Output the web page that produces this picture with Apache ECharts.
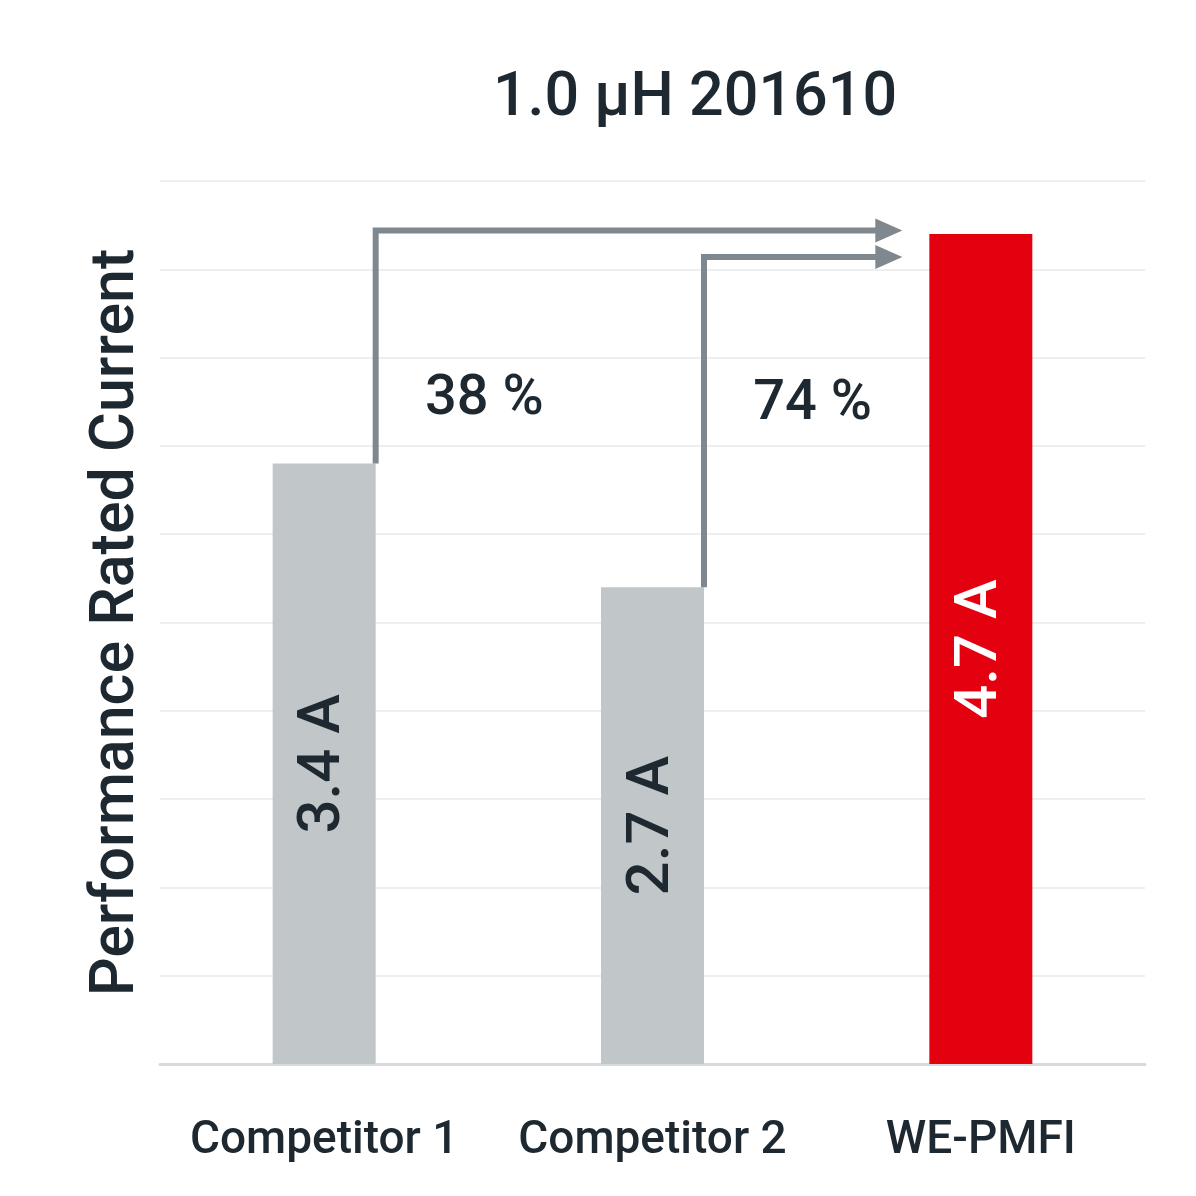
<!DOCTYPE html>
<html>
<head>
<meta charset="utf-8">
<script src="https://cdn.jsdelivr.net/npm/echarts@6/dist/echarts.min.js"></script>
<style>
  html, body { margin: 0; padding: 0; background: #fff; }
  #chart { width: 1196px; height: 1196px; }
</style>
</head>
<body>
<div id="chart"></div>
<script>
// data
const categories = ['Competitor 1', 'Competitor 2', 'WE-PMFI'];
const currents = [3.4, 2.7, 4.7];
const barLabels = ['3.4 A', '2.7 A', '4.7 A'];
const barColors = ['#c1c6c8', '#c1c6c8', '#e3000f'];
const labelColors = ['#1e2830', '#1e2830', '#ffffff'];

// arrows: from which bar, at which level they run across, and the gain text
const arrowFrom = [0, 1];
const arrowLevels = [4.72, 4.57];
const gains = ['38 %', '74 %'];
const gainLevels = [3.76, 3.73];

const yTicks = [0, 0.5, 1, 1.5, 2, 2.5, 3, 3.5, 4, 4.5, 5];

const FONT = 'Roboto';
const DARK = '#1e2830';
const ARROW = '#7e888e';
const BAR_W = 103;

var myChart = echarts.init(document.getElementById('chart'));

const barData = currents.map((v, i) => ({
  value: v,
  itemStyle: { color: barColors[i] },
  label: { color: labelColors[i], formatter: barLabels[i] }
}));

const arrowData = arrowFrom.map((c, i) => [c, currents[c], arrowLevels[i], gainLevels[i]]);

function renderArrow(params, api) {
  const idx = api.value(0);
  const start = api.coord([idx, api.value(1)]);
  const level = api.coord([idx, api.value(2)]);
  const target = api.coord([categories.length - 1, api.value(2)]);
  const next = api.coord([idx + 1, api.value(3)]);
  const x0 = start[0] + BAR_W / 2;
  const y = level[1];
  const tip = target[0] - BAR_W / 2 - 27;
  return {
    type: 'group',
    children: [
      {
        type: 'polyline',
        shape: { points: [[x0, start[1]], [x0, y], [tip - 20, y]] },
        style: { stroke: ARROW, lineWidth: 6, fill: null, lineJoin: 'miter' }
      },
      {
        type: 'polygon',
        shape: { points: [[tip - 27, y - 12], [tip, y], [tip - 27, y + 12]] },
        style: { fill: ARROW }
      },
      {
        type: 'text',
        x: (start[0] + next[0]) / 2 - 4,
        y: next[1],
        style: {
          text: gains[params.dataIndex],
          fill: DARK,
          font: '500 56px ' + FONT,
          align: 'center',
          verticalAlign: 'middle'
        }
      }
    ]
  };
}

var option = {
  backgroundColor: '#ffffff',
  animation: false,
  title: {
    text: '1.0 µH 201610',
    left: 690,
    textAlign: 'center',
    top: 64,
    textStyle: { fontFamily: FONT, fontSize: 61, fontWeight: 500, color: DARK }
  },
  grid: { left: 160, right: 51, top: 181, bottom: 132 },
  xAxis: {
    type: 'category',
    data: categories,
    axisLine: { lineStyle: { color: '#d5dbe1', width: 3 } },
    axisTick: { show: false },
    axisLabel: {
      interval: 0,
      hideOverlap: false,
      fontFamily: FONT,
      fontSize: 46,
      fontWeight: 500,
      color: DARK,
      margin: 54
    }
  },
  yAxis: {
    type: 'value',
    min: yTicks[0],
    max: yTicks[yTicks.length - 1],
    interval: 0.5,
    name: 'Performance Rated Current',
    nameLocation: 'middle',
    nameGap: 12,
    nameTextStyle: { fontFamily: FONT, fontSize: 61, fontWeight: 500, color: DARK },
    axisLine: { show: false },
    axisTick: { show: false },
    axisLabel: { show: false },
    splitLine: { lineStyle: { color: '#eeeeee', width: 2 } }
  },
  series: [
    {
      type: 'bar',
      data: barData,
      barWidth: BAR_W,
      label: {
        show: true,
        position: 'inside',
        rotate: 90,
        fontFamily: FONT,
        fontSize: 60,
        fontWeight: 500
      }
    },
    {
      type: 'custom',
      data: arrowData,
      renderItem: renderArrow,
      z: 5
    }
  ]
};

option && myChart.setOption(option);
</script>
</body>
</html>
